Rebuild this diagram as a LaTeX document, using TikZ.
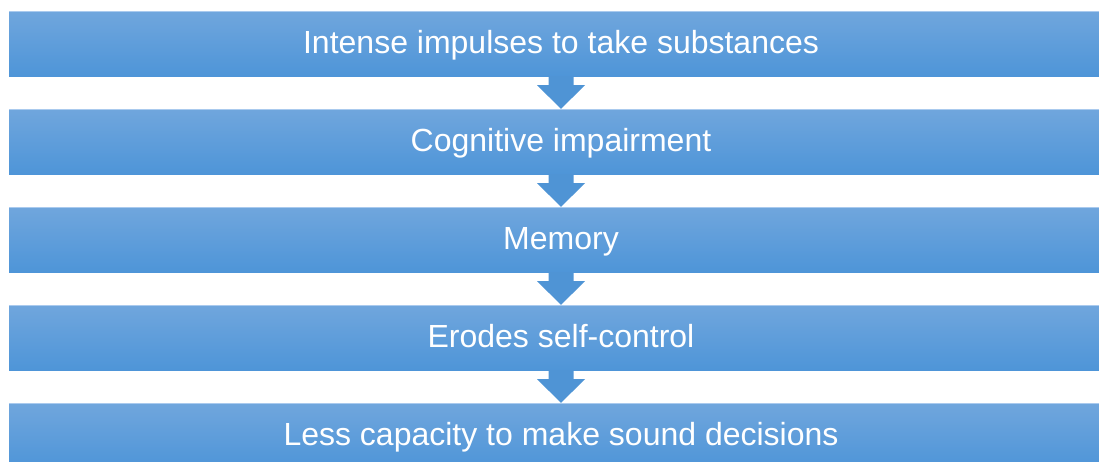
\documentclass[tikz,border=0pt]{standalone}
\usepackage{fontspec}
\setmainfont{Liberation Sans}
\definecolor{boxtop}{RGB}{112,166,221}
\definecolor{boxbot}{RGB}{78,149,216}
\definecolor{boxedge}{RGB}{170,202,238}
\definecolor{arrowc}{RGB}{79,148,213}
\begin{document}
\begin{tikzpicture}[x=1pt,y=-1pt,
  stagebox/.style={rectangle, inner sep=0pt, minimum width=1104pt, minimum height=65pt,
    top color=boxtop, bottom color=boxbot, text=white,
    text height=24pt, text depth=5pt,
    font=\fontsize{32}{38}\selectfont,
    path picture={\draw[boxedge, line width=1.5pt] (path picture bounding box.north west) -- (path picture bounding box.north east);}},
  downarrow/.style={fill=arrowc}]
\useasboundingbox (0,0) rectangle (1099,461);
\clip (0,0) rectangle (1099,461);
\node[stagebox] (b1) at (561,43.5) {Intense impulses to take substances};
\node[stagebox] (b2) at (561,141.5) {Cognitive impairment};
\node[stagebox] (b3) at (561,239.5) {Memory};
\node[stagebox] (b4) at (561,337.5) {Erodes self-control};
\node[stagebox] (b5) at (561,435.5) {Less capacity to make sound decisions};
\foreach \a/\b in {b1/b2,b2/b3,b3/b4,b4/b5}{
  \fill[downarrow] ([xshift=-12.5pt]\a.south) -- ([xshift=-12.5pt,yshift=-9pt]\a.south)
    -- ([xshift=-24pt,yshift=-9pt]\a.south) -- (\b.north)
    -- ([xshift=24pt,yshift=-9pt]\a.south) -- ([xshift=12.5pt,yshift=-9pt]\a.south)
    -- ([xshift=12.5pt]\a.south) -- cycle;
}
\end{tikzpicture}
\end{document}
